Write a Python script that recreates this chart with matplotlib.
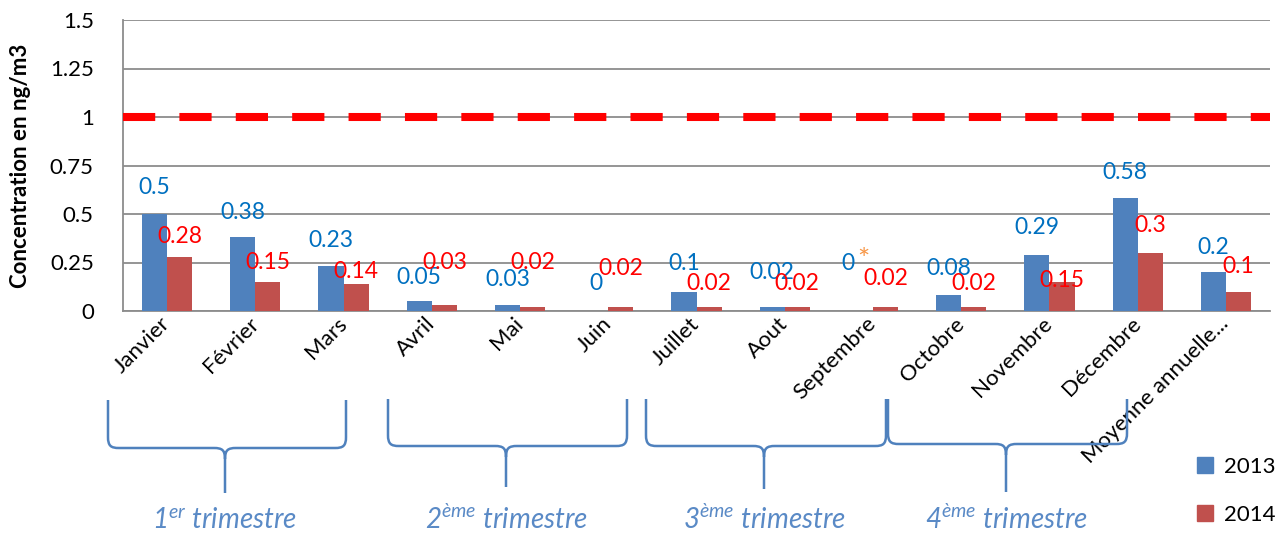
import numpy as np
import matplotlib
matplotlib.use("Agg")
import matplotlib.pyplot as plt
from matplotlib.path import Path
from matplotlib.patches import PathPatch, Patch
from matplotlib.transforms import IdentityTransform

# donnees
mois = ["Janvier", "Février", "Mars", "Avril", "Mai", "Juin", "Juillet", "Aout",
        "Septembre", "Octobre", "Novembre", "Décembre", "Moyenne annuelle..."]
val_2013 = [0.5, 0.38, 0.23, 0.05, 0.03, 0, 0.1, 0.02, 0, 0.08, 0.29, 0.58, 0.2]
val_2014 = [0.28, 0.15, 0.14, 0.03, 0.02, 0.02, 0.02, 0.02, 0.02, 0.02, 0.15, 0.3, 0.1]
seuil = 1
yticks = [0, 0.25, 0.5, 0.75, 1, 1.25, 1.5]
trimestres = ["1$^{er}$ trimestre", "2$^{ème}$ trimestre",
              "3$^{ème}$ trimestre", "4$^{ème}$ trimestre"]

# decalage vertical des etiquettes (pixels au-dessus de la barre), comme dans Excel
decal_2013 = [27, 25, 26, 24, 26, 28, 28, 35, 48, 27, 27, 26, 25]
decal_2014 = [20, 19, 12, 43, 45, 39, 24, 24, 29, 24, 1, 27, 25]

plt.rcParams['font.family'] = ['Lato', 'DejaVu Sans']
plt.rcParams['mathtext.fontset'] = 'custom'
plt.rcParams['mathtext.rm'] = 'Lato:italic'
plt.rcParams['mathtext.it'] = 'Lato:italic'

W, H = 1277, 533
fig = plt.figure(figsize=(W / 100, H / 100), dpi=100)
ax = fig.add_axes([123 / W, 1 - 311 / H, (1270 - 123) / W, 291 / H])

bleu = "#4F81BD"
rouge = "#C0504D"
x = np.arange(len(mois))
w = 0.285
ax.bar(x - w / 2, val_2013, w, color=bleu, zorder=3)
ax.bar(x + w / 2, val_2014, w, color=rouge, zorder=3)

# etiquettes de donnees
for i, v in enumerate(val_2013):
    dx = 0
    if mois[i] == "Septembre":
        dx = -12
        ax.annotate("*", (x[i] - w / 2, v), xytext=(3, decal_2013[i] + 2),
                    textcoords="offset pixels", ha="center", va="center",
                    fontsize=21, color="#F79646", zorder=5)
    ax.annotate(f"{v:g}", (x[i] - w / 2, v), xytext=(dx, decal_2013[i]),
                textcoords="offset pixels", ha="center", va="center",
                fontsize=16.5, color="#0070C0", zorder=5)
for i, v in enumerate(val_2014):
    ax.annotate(f"{v:g}", (x[i] + w / 2, v), xytext=(0, decal_2014[i]),
                textcoords="offset pixels", ha="center", va="center",
                fontsize=16.5, color="#FF0000", zorder=5)

# valeur limite
ax.axhline(seuil, color="#FF0000", lw=5.8, ls=(0, (4, 3)), zorder=4)

ax.set_xlim(-0.5, len(mois) - 0.5)
ax.set_ylim(0, 1.5)
ax.set_yticks(yticks)
ax.set_yticklabels([f"{t:g}" for t in yticks])
ax.yaxis.grid(True, color="#8C8C8C", lw=1.3, zorder=0)
for s in ["top", "right"]:
    ax.spines[s].set_visible(False)
for s in ["left", "bottom"]:
    ax.spines[s].set_color("#8C8C8C")
    ax.spines[s].set_linewidth(1.3)
ax.tick_params(axis="y", length=0, pad=21, labelsize=16)
ax.tick_params(axis="x", length=0, pad=7, labelsize=16)
ax.set_xticks(x)
ax.set_xticklabels(mois, rotation=45, ha="right", va="center", rotation_mode="anchor")
ax.set_ylabel("Concentration en ng/m3", fontsize=16, fontweight="bold")
ax.yaxis.set_label_coords(-92 / 1147, 0.5)


# accolades sous les mois
def accolade(x0, x1, xt, ytop, yh, ybot):
    r = 11
    pts = [(x0, ytop), (x0, yh - r), (x0, yh - 2), (x0 + 3, yh), (x0 + r, yh),
           (xt - r, yh), (xt - 3, yh), (xt, yh + 2), (xt, yh + r), (xt, ybot),
           (xt, yh + r), (xt, yh + 2), (xt + 3, yh), (xt + r, yh),
           (x1 - r, yh), (x1 - 3, yh), (x1, yh - 2), (x1, yh - r), (x1, ytop)]
    codes = [Path.MOVETO, Path.LINETO, Path.CURVE4, Path.CURVE4, Path.CURVE4,
             Path.LINETO, Path.CURVE4, Path.CURVE4, Path.CURVE4, Path.LINETO,
             Path.MOVETO, Path.CURVE4, Path.CURVE4, Path.CURVE4,
             Path.LINETO, Path.CURVE4, Path.CURVE4, Path.CURVE4, Path.LINETO]
    pts = [(px, H - py) for px, py in pts]
    p = PathPatch(Path(pts, codes), fill=False, ec=bleu, lw=1.8,
                  transform=IdentityTransform())
    fig.add_artist(p)


accolades = [(108, 346, 225, 400, 448, 493), (388, 627, 506, 399, 446, 487),
             (646, 886, 764, 399, 446, 489), (888, 1127, 1006, 399, 444, 492)]
for (a, b, c, d, e, f), t in zip(accolades, trimestres):
    accolade(a, b, c, d, e, f)
    fig.text(c / W, 1 - 529 / H, t, ha="center", va="baseline", fontsize=20,
             style="italic", color="#5A8AC6")

fig.legend([Patch(color=bleu), Patch(color=rouge)], ["2013", "2014"],
           loc="upper left", bbox_to_anchor=(1197 / W, 1 - 457 / H), frameon=False,
           fontsize=16, handlelength=0.7, handleheight=0.7, labelspacing=1.25,
           handletextpad=0.5, borderaxespad=0, borderpad=0)

fig.savefig("out.png", dpi=100)
